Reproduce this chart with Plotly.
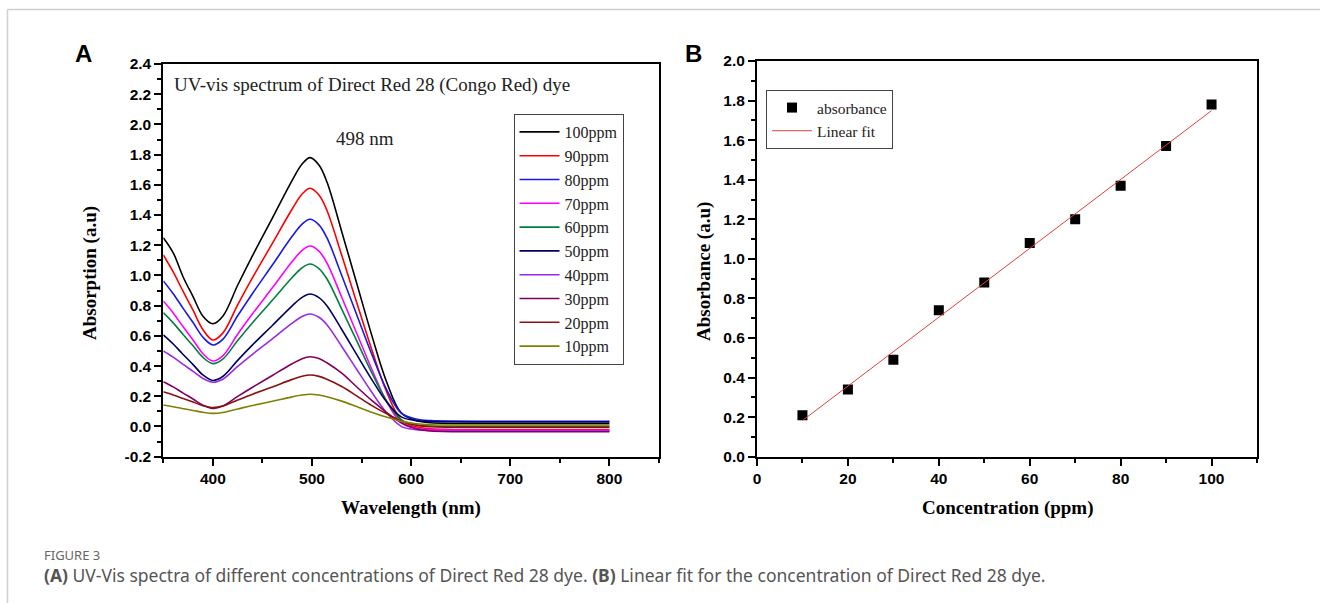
import numpy as np
import plotly.graph_objects as go

W, H = 1320, 603

# ---------------- Data: panel A (UV-vis spectra) ----------------
wavelength = [350, 360, 370, 380, 390, 400, 410, 425, 440, 460, 480, 490, 498, 507,
              515, 530, 545, 560, 575, 590, 605, 620, 700, 800]

abs_100 = [1.25, 1.15, 0.99, 0.86, 0.73, 0.68, 0.73, 0.935, 1.131, 1.38, 1.63, 1.738, 1.78, 1.731,
           1.62, 1.29, 0.95, 0.61, 0.30, 0.09, 0.04, 0.025, 0.02, 0.02]
abs_90 = [1.136, 1.023, 0.894, 0.77, 0.641, 0.573, 0.618, 0.806, 0.985, 1.212, 1.44, 1.539, 1.577, 1.532,
          1.432, 1.133, 0.823, 0.515, 0.234, 0.044, -0.002, -0.015, -0.02, -0.02]
abs_80 = [0.964, 0.879, 0.782, 0.688, 0.591, 0.54, 0.577, 0.733, 0.881, 1.069, 1.259, 1.34, 1.372, 1.335,
          1.25, 1.0, 0.741, 0.483, 0.248, 0.088, 0.05, 0.039, 0.035, 0.035]
abs_70 = [0.831, 0.752, 0.66, 0.573, 0.482, 0.434, 0.468, 0.611, 0.746, 0.918, 1.092, 1.166, 1.195, 1.161,
          1.084, 0.856, 0.619, 0.384, 0.169, 0.024, -0.012, -0.021, -0.025, -0.025]
abs_60 = [0.754, 0.686, 0.609, 0.534, 0.457, 0.416, 0.446, 0.569, 0.687, 0.836, 0.986, 1.051, 1.076, 1.046,
          0.978, 0.777, 0.568, 0.36, 0.171, 0.043, 0.012, 0.003, 0.0, 0.0]
abs_50 = [0.606, 0.546, 0.477, 0.41, 0.341, 0.305, 0.331, 0.438, 0.54, 0.669, 0.799, 0.855, 0.877, 0.853,
          0.80, 0.642, 0.477, 0.314, 0.165, 0.064, 0.039, 0.033, 0.03, 0.03]
abs_40 = [0.50, 0.459, 0.411, 0.365, 0.318, 0.293, 0.313, 0.398, 0.478, 0.58, 0.684, 0.728, 0.745, 0.723,
          0.674, 0.53, 0.379, 0.23, 0.093, 0.001, -0.021, -0.028, -0.03, -0.03]
abs_30 = [0.297, 0.262, 0.221, 0.182, 0.141, 0.12, 0.135, 0.199, 0.26, 0.338, 0.415, 0.449, 0.462, 0.45,
          0.422, 0.353, 0.263, 0.174, 0.094, 0.025, -0.015, -0.03, -0.035, -0.035]
abs_20 = [0.23, 0.209, 0.185, 0.162, 0.138, 0.125, 0.135, 0.175, 0.214, 0.262, 0.312, 0.333, 0.341, 0.332,
          0.313, 0.265, 0.203, 0.14, 0.085, 0.037, 0.009, -0.002, -0.005, -0.005]
abs_10 = [0.142, 0.131, 0.118, 0.106, 0.094, 0.087, 0.093, 0.116, 0.139, 0.167, 0.196, 0.208, 0.213, 0.208,
          0.197, 0.168, 0.132, 0.095, 0.063, 0.034, 0.018, 0.012, 0.01, 0.01]

series_names = ["100ppm", "90ppm", "80ppm", "70ppm", "60ppm",
                "50ppm", "40ppm", "30ppm", "20ppm", "10ppm"]
series_values = [abs_100, abs_90, abs_80, abs_70, abs_60,
                 abs_50, abs_40, abs_30, abs_20, abs_10]
series_colors = ["#000000", "#ff0000", "#1a1ae6", "#ff00ff", "#008040",
                 "#000060", "#9a2be2", "#800060", "#8b1010", "#808000"]

yticks_A = [-0.2, 0.0, 0.2, 0.4, 0.6, 0.8, 1.0, 1.2, 1.4, 1.6, 1.8, 2.0, 2.2, 2.4]
yticks_B = [0.0, 0.2, 0.4, 0.6, 0.8, 1.0, 1.2, 1.4, 1.6, 1.8, 2.0]

# ---------------- Data: panel B (calibration) ----------------
concentration = [10, 20, 30, 40, 50, 60, 70, 80, 90, 100]
absorbance = [0.21, 0.34, 0.49, 0.74, 0.88, 1.08, 1.20, 1.37, 1.57, 1.78]


def px(x):
    return x / W


def py(y):
    return 1 - y / H


fig = go.Figure()

for name, vals, col in zip(series_names, series_values, series_colors):
    fig.add_trace(go.Scatter(
        x=wavelength, y=vals, mode="lines", name=name,
        line=dict(color=col, width=1.6, shape="spline", smoothing=1.0),
        xaxis="x", yaxis="y", legend="legend"))

fig.add_trace(go.Scatter(
    x=concentration, y=absorbance, mode="markers", name="absorbance",
    marker=dict(symbol="square", size=10, color="black"),
    xaxis="x2", yaxis="y2", legend="legend2"))

slope, intercept = np.polyfit(concentration, absorbance, 1)
fit_x = [min(concentration), max(concentration)]
fit_y = [slope * v + intercept for v in fit_x]
fig.add_trace(go.Scatter(
    x=fit_x, y=fit_y, mode="lines", name="Linear fit",
    line=dict(color="#e0403c", width=1),
    xaxis="x2", yaxis="y2", legend="legend2"))

tickfont = dict(family="Liberation Sans", size=15.5, color="black", weight="bold")
minor_common = dict(ticks="outside", ticklen=4, tickwidth=1.5, tickcolor="black")
axis_common = dict(showline=True, linecolor="black", linewidth=2, mirror=True,
                   ticks="outside", ticklen=7, tickwidth=1.5, tickcolor="black",
                   showgrid=False, zeroline=False, tickfont=tickfont,
                   automargin=False)

fig.update_layout(
    width=W, height=H,
    margin=dict(l=0, r=0, t=0, b=0),
    paper_bgcolor="white", plot_bgcolor="white",
    xaxis=dict(domain=[px(163.3), px(659)], range=[350, 850],
               tick0=400, dtick=100,
               minor=dict(dtick=50, **minor_common),
               anchor="y", **axis_common),
    yaxis=dict(domain=[py(456.7), py(64)], range=[-0.2, 2.4],
               tickmode="array", tickvals=yticks_A,
               ticktext=[f"{v:.1f}" for v in yticks_A],
               minor=dict(tick0=0, dtick=0.1, **minor_common),
               anchor="x", **axis_common),
    xaxis2=dict(domain=[px(757), px(1257)], range=[0, 110],
                tick0=0, dtick=20,
                minor=dict(dtick=10, **minor_common),
                anchor="y2", **axis_common),
    yaxis2=dict(domain=[py(456.7), py(61)], range=[0, 2.0],
                tickmode="array", tickvals=yticks_B,
                ticktext=[f"{v:.1f}" for v in yticks_B],
                minor=dict(tick0=0, dtick=0.1, **minor_common),
                anchor="x2", **axis_common),
    legend=dict(x=px(513.5), y=py(114), xanchor="left", yanchor="top",
                bgcolor="white", bordercolor="#444", borderwidth=1,
                font=dict(family="Liberation Serif", size=16, color="#222"),
                tracegroupgap=0, itemwidth=40),
    legend2=dict(x=px(766), y=py(90), xanchor="left", yanchor="top",
                 bgcolor="white", bordercolor="#444", borderwidth=1,
                 font=dict(family="Liberation Serif", size=15.5, color="#222"),
                 tracegroupgap=0, itemwidth=40),
    showlegend=True,
)

serif = "Liberation Serif"
ann = []
ann.append(dict(text="UV-vis spectrum of Direct Red 28 (Congo Red) dye",
                x=px(172), y=py(85), xanchor="left", yanchor="middle",
                font=dict(family=serif, size=19, color="#222")))
ann.append(dict(text="498 nm", x=px(365), y=py(138), xanchor="center",
                yanchor="middle", font=dict(family=serif, size=19, color="#222")))
ann.append(dict(text="<b>Absorption (a.u)</b>", x=px(90), y=py(273), textangle=-90,
                xanchor="center", yanchor="middle",
                font=dict(family=serif, size=19, color="black")))
ann.append(dict(text="<b>Wavelength (nm)</b>", x=px(411), y=py(508),
                xanchor="center", yanchor="middle",
                font=dict(family=serif, size=19, color="black")))
ann.append(dict(text="<b>Absorbance (a.u)</b>", x=px(704), y=py(272), textangle=-90,
                xanchor="center", yanchor="middle",
                font=dict(family=serif, size=19, color="black")))
ann.append(dict(text="<b>Concentration (ppm)</b>", x=px(1008), y=py(508),
                xanchor="center", yanchor="middle",
                font=dict(family=serif, size=19, color="black")))
ann.append(dict(text="<b>A</b>", x=px(84), y=py(53), xanchor="center",
                yanchor="middle",
                font=dict(family="Liberation Sans", size=24, color="black")))
ann.append(dict(text="<b>B</b>", x=px(693), y=py(53), xanchor="center",
                yanchor="middle",
                font=dict(family="Liberation Sans", size=24, color="black")))
ann.append(dict(text="FIGURE 3", x=px(42), y=py(555), xanchor="left",
                yanchor="middle",
                font=dict(family="Noto Sans", size=13, color="#666")))
ann.append(dict(text="<b>(A)</b> UV-Vis spectra of different concentrations of Direct Red 28 dye. "
                     "<b>(B)</b> Linear fit for the concentration of Direct Red 28 dye.",
                x=px(42), y=py(575), xanchor="left", yanchor="middle",
                font=dict(family="Noto Sans", size=17.5, color="#555")))
for a in ann:
    a.update(xref="paper", yref="paper", showarrow=False)
fig.update_layout(annotations=ann)

fig.update_layout(shapes=[
    dict(type="line", xref="paper", yref="paper", x0=px(7.5), x1=px(7.5),
         y0=0, y1=py(9.5), line=dict(color="#d0d0d0", width=1.5)),
    dict(type="line", xref="paper", yref="paper", x0=px(7.5), x1=1,
         y0=py(9.5), y1=py(9.5), line=dict(color="#d0d0d0", width=1.5)),
])

fig.write_html("out.html")
